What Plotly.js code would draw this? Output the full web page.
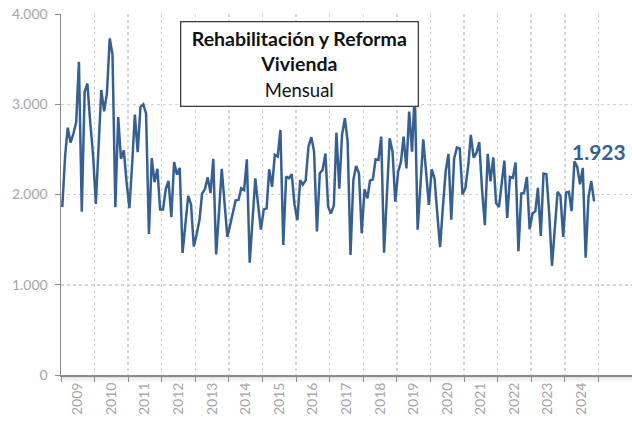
<!DOCTYPE html>
<html>
<head>
<meta charset="utf-8">
<script src="https://cdn.plot.ly/plotly-3.0.1.min.js"></script>
<style>html,body{margin:0;padding:0;background:#fff;}#chart{width:632px;height:421px;}</style>
</head>
<body>
<div id="chart"></div>
<script>
// ---- data (monthly, Jan 2009 – Nov 2024) ----
const startYear = 2009;
const yearLabels = ["2009","2010","2011","2012","2013","2014","2015","2016","2017","2018","2019","2020","2021","2022","2023","2024"];
const v2009 = [1860, 2430, 2740, 2575, 2670, 2800, 3470, 1810, 3140, 3230, 2800, 2450];
const v2010 = [1896, 2520, 3158, 2922, 3119, 3730, 3552, 1860, 2859, 2396, 2489, 2137];
const v2011 = [1848, 2360, 2885, 2470, 2970, 3000, 2896, 1563, 2404, 2137, 2285, 1833];
const v2012 = [1833, 2063, 2150, 1750, 2360, 2220, 2295, 1352, 1720, 1985, 1890, 1424];
const v2013 = [1560, 1720, 2010, 2060, 2190, 2015, 2395, 1335, 1800, 2285, 1900, 1530];
const v2014 = [1666, 1795, 1935, 1940, 2070, 2050, 2390, 1245, 1700, 2180, 1880, 1610];
const v2015 = [1835, 1846, 2280, 2085, 2440, 2420, 2715, 1440, 2200, 2180, 2225, 1890];
const v2016 = [1715, 2160, 2110, 2160, 2530, 2635, 2475, 1590, 2235, 2270, 2455, 1865];
const v2017 = [1790, 1880, 2685, 2065, 2660, 2845, 2585, 1330, 2160, 2315, 2235, 1570];
const v2018 = [2057, 1957, 2153, 2168, 2390, 2383, 2641, 1355, 2000, 2622, 2475, 1920];
const v2019 = [2253, 2364, 2641, 2290, 2918, 2475, 3150, 1610, 2106, 2611, 2250, 1884];
const v2020 = [2280, 2175, 1800, 1418, 1850, 2260, 2450, 1720, 2400, 2520, 2510, 2000];
const v2021 = [2070, 2315, 2660, 2410, 2460, 2580, 2060, 1660, 2450, 2145, 2410, 1905];
const v2022 = [1860, 2120, 2375, 1740, 2195, 2184, 2354, 1373, 2011, 2018, 2195, 1616];
const v2023 = [1790, 1815, 2074, 1542, 2232, 2225, 1800, 1210, 1650, 2030, 1985, 1531];
const v2024 = [2022, 2030, 1815, 2369, 2306, 2114, 2295, 1299, 1974, 2148, 1923];
const lastLabel = "1.923";
const titleLines = ["Rehabilitación y Reforma", "Vivienda", "Mensual"];

const values = [].concat(v2009, v2010, v2011, v2012, v2013, v2014, v2015, v2016,
                         v2017, v2018, v2019, v2020, v2021, v2022, v2023, v2024);
const dates = values.map((_, i) => {
  const y = startYear + Math.floor(i / 12);
  const m = (i % 12) + 1;
  return y + "-" + String(m).padStart(2, "0") + "-15";
});
const midYears = yearLabels.map(y => y + "-07-02");

const blue = "rgb(54,96,146)";
const gray = "#a6a6a6";

const trace = {
  x: dates, y: values, type: "scatter", mode: "lines",
  line: {color: blue, width: 2.5}, hoverinfo: "skip"
};

const layout = {
  width: 632, height: 421,
  margin: {l: 61, r: 0, t: 14, b: 46},
  paper_bgcolor: "#fff", plot_bgcolor: "#fff",
  separators: ",.",
  showlegend: false,
  font: {family: "Lato, 'Open Sans', sans-serif", color: gray},
  xaxis: {
    type: "date",
    range: ["2009-01-01", "2026-01-01"],
    tickmode: "array", tickvals: midYears, ticktext: yearLabels,
    ticks: "", tickangle: -90,
    tickfont: {size: 14, color: gray, family: "Lato, sans-serif"},
    showgrid: false, zeroline: false,
    showline: true, linecolor: "#8c8c8c", linewidth: 2,
    minor: {dtick: "M12", tick0: "2009-01-01", ticks: "outside", ticklen: 5,
            tickcolor: "#8c8c8c", tickwidth: 1, showgrid: true,
            gridcolor: "#d4d4d4", griddash: "dot", gridwidth: 1.5}
  },
  yaxis: {
    range: [0, 4000],
    tickmode: "array", tickvals: [0, 1000, 2000, 3000, 4000],
    tickformat: ",d",
    ticks: "outside", ticklen: 5, tickcolor: "#8c8c8c",
    ticklabelstandoff: 4,
    tickfont: {size: 14, color: gray, family: "Lato, sans-serif"},
    showline: true, linecolor: "#8c8c8c", linewidth: 1.5,
    showgrid: true, gridcolor: "#d4d4d4", griddash: "dot", gridwidth: 1.5,
    zeroline: false
  },
  shapes: [
    {type: "rect", xref: "paper", yref: "paper", x0: 0, x1: 1, y0: -0.008, y1: -0.002,
     fillcolor: "rgba(0,0,0,0.13)", line: {width: 0}, layer: "below"},
    {type: "rect", xref: "paper", yref: "paper", x0: 0, x1: 1, y0: -0.017, y1: -0.008,
     fillcolor: "rgba(0,0,0,0.05)", line: {width: 0}, layer: "below"}
  ],
  annotations: [
    {xref: "paper", yref: "paper", x: (299.5 - 61) / 571, y: (375 - 64) / 361,
     xanchor: "center", yanchor: "middle",
     text: "<b>" + titleLines[0] + "</b><br><b>" + titleLines[1] + "</b><br>" +
           "<span style='font-size:18.5px'>" + titleLines[2] + "</span>",
     showarrow: false, align: "center", valign: "middle",
     width: 236, height: 83, bgcolor: "#fff",
     bordercolor: "#404040", borderwidth: 1.3, borderpad: 0,
     font: {size: 19.5, color: "#111", family: "Lato, sans-serif"}},
    {x: dates[dates.length - 1], y: values[values.length - 1],
     text: "<b>" + lastLabel + "</b>", showarrow: false,
     xshift: 5, yshift: 50,
     font: {size: 21, color: blue, family: "Lato, sans-serif"}}
  ]
};

Plotly.newPlot("chart", [trace], layout, {displayModeBar: false, staticPlot: true});
</script>
</body>
</html>
